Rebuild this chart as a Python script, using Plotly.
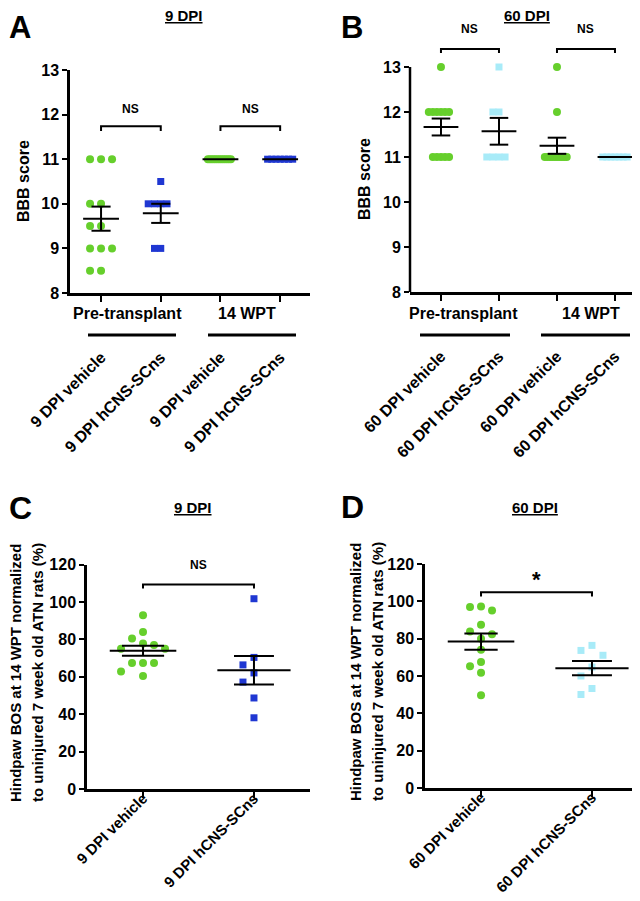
import numpy as np
import plotly.graph_objects as go

W, H = 640, 901
FONT = "Liberation Sans"

# ---------------- data ----------------
# Panel A: BBB score, 9 DPI
a_tick_labels = ["9 DPI vehicle", "9 DPI hCNS-SCns", "9 DPI vehicle", "9 DPI hCNS-SCns"]
a_pre_vehicle = [11, 11, 11, 10, 10, 9.5, 9.5, 9, 9, 9, 8.5, 8.5]
a_pre_hcns = [10.5, 10, 10, 10, 10, 9, 9]
a_wpt_vehicle = [11] * 12
a_wpt_hcns = [11] * 7

# Panel B: BBB score, 60 DPI
b_tick_labels = ["60 DPI vehicle", "60 DPI hCNS-SCns", "60 DPI vehicle", "60 DPI hCNS-SCns"]
b_pre_vehicle = [13, 12, 12, 12, 12, 12, 12, 11, 11, 11, 11, 11]
b_pre_hcns = [13, 12, 12, 11, 11, 11, 11]
b_wpt_vehicle = [13, 12, 11, 11, 11, 11, 11, 11, 11, 11, 11, 11]
b_wpt_hcns = [11] * 7

# Panel C: hindpaw BOS, 9 DPI
c_tick_labels = ["9 DPI vehicle", "9 DPI hCNS-SCns"]
c_vehicle = [93, 84, 80.5, 77.9, 77, 75, 75, 67.4, 67.4, 67.4, 62.8, 60.4]
c_hcns = [101.8, 70.4, 66.4, 62.1, 57.2, 48.7, 38.1]

# Panel D: hindpaw BOS, 60 DPI
d_tick_labels = ["60 DPI vehicle", "60 DPI hCNS-SCns"]
d_vehicle = [97.2, 95.1, 96.9, 87.4, 83.9, 82.3, 80.0, 74.1, 65.2, 67.5, 61.8, 49.7]
d_hcns = [76.4, 71.1, 73.7, 64.8, 60.0, 53.3, 50.1]

bbb_ticks = [8, 9, 10, 11, 12, 13]
bos_ticks = [0, 20, 40, 60, 80, 100, 120]

# ---------------- styles ----------------
GREEN = "#66cf2c"
BLUE = "#1f37d2"
CYAN = "#a8ebf8"


def PX(x):
    return x / W


def PY(y):
    return 1 - y / H


# subplot geometry in pixels: (left, right, bottom, top), x range, y range
geo = {
    "A": dict(px=(62, 302), py=(285, 62), xr=[-0.52, 3.5], yr=[8, 13]),
    "B": dict(px=(402, 635), py=(284, 14), xr=[-0.534, 3.483], yr=[8, 14]),
    "C": dict(px=(79, 302), py=(781, 556.7), xr=[-0.505, 1.505], yr=[0, 120]),
    "D": dict(px=(417, 640), py=(780, 556), xr=[-0.505, 1.505], yr=[0, 120]),
}
axid = {"A": ("x", "y"), "B": ("x2", "y2"), "C": ("x3", "y3"), "D": ("x4", "y4")}


def ppu(key):
    g = geo[key]
    xp = (g["px"][1] - g["px"][0]) / (g["xr"][1] - g["xr"][0])
    yp = (g["py"][0] - g["py"][1]) / (g["yr"][1] - g["yr"][0])
    return xp, yp


def swarm(values, key, slot=11.0, maxw=0.21):
    xp, yp = ppu(key)
    vals = np.asarray(values, dtype=float)
    order = np.argsort(-vals, kind="stable")
    cands = [0]
    for j in range(1, 40):
        cands += [-j, j]
    placed = []
    offs = np.zeros(len(vals))
    for i in order:
        y = vals[i] * yp
        for c in cands:
            x = c * slot
            if all((x - a) ** 2 + (y - b) ** 2 >= (slot * 0.95) ** 2 for a, b in placed):
                break
        placed.append((x, y))
        offs[i] = x / xp
    m = np.max(np.abs(offs))
    if m > maxw:
        offs *= maxw / m
    return offs


fig = go.Figure()


def add_group(key, pos, values, color, symbol, size, mean_hw=0.3, cap_hw=0.16):
    xa, ya = axid[key]
    offs = swarm(values, key)
    fig.add_trace(go.Scatter(
        x=pos + offs, y=values, mode="markers", xaxis=xa, yaxis=ya,
        marker=dict(color=color, symbol=symbol, size=size, line=dict(width=0)),
        showlegend=False, hoverinfo="y", cliponaxis=False))
    v = np.asarray(values, dtype=float)
    m = v.mean()
    s = v.std(ddof=1) / np.sqrt(len(v))
    xs = [pos - mean_hw, pos + mean_hw, None]
    ys = [m, m, None]
    if s > 0:
        xs += [pos, pos, None, pos - cap_hw, pos + cap_hw, None, pos - cap_hw, pos + cap_hw]
        ys += [m - s, m + s, None, m + s, m + s, None, m - s, m - s]
    fig.add_trace(go.Scatter(
        x=xs, y=ys, mode="lines", xaxis=xa, yaxis=ya,
        line=dict(color="black", width=2), showlegend=False, hoverinfo="skip"))


def add_bracket(key, x0, x1, ytop, ylow, text, ytext, tsize=12):
    xa, ya = axid[key]
    fig.add_trace(go.Scatter(
        x=[x0, x0, x1, x1], y=[ylow, ytop, ytop, ylow], mode="lines",
        xaxis=xa, yaxis=ya, line=dict(color="black", width=2),
        showlegend=False, hoverinfo="skip"))
    fig.add_annotation(x=(x0 + x1) / 2, y=ytext, xref=xa, yref=ya, text=text,
                       showarrow=False, xanchor="center", yanchor="middle",
                       font=dict(family=FONT, size=tsize, color="black", weight="bold"))


# Panel A
add_group("A", 0, a_pre_vehicle, GREEN, "circle", 8)
add_group("A", 1, a_pre_hcns, BLUE, "square", 7)
add_group("A", 2, a_wpt_vehicle, GREEN, "circle", 8)
add_group("A", 3, a_wpt_hcns, BLUE, "square", 7)
add_bracket("A", 0, 1, 11.74, 11.63, "NS", 12.12)
add_bracket("A", 2, 3, 11.74, 11.63, "NS", 12.12)

# Panel B
add_group("B", 0, b_pre_vehicle, GREEN, "circle", 8)
add_group("B", 1, b_pre_hcns, CYAN, "square", 7)
add_group("B", 2, b_wpt_vehicle, GREEN, "circle", 8)
add_group("B", 3, b_wpt_hcns, CYAN, "square", 7)
add_bracket("B", 0, 1, 13.40, 13.31, "NS", 13.84)
add_bracket("B", 2, 3, 13.40, 13.31, "NS", 13.84)

# Panel C
add_group("C", 0, c_vehicle, GREEN, "circle", 8, mean_hw=0.3, cap_hw=0.19)
add_group("C", 1, c_hcns, BLUE, "square", 7, mean_hw=0.33, cap_hw=0.18)
add_bracket("C", 0, 1, 109.4, 107.3, "NS", 120.0)

# Panel D
add_group("D", 0, d_vehicle, GREEN, "circle", 8, mean_hw=0.3, cap_hw=0.15)
add_group("D", 1, d_hcns, CYAN, "square", 7, mean_hw=0.33, cap_hw=0.18)
add_bracket("D", 0, 1, 104.9, 102.6, "*", 111.5, tsize=22)

# ---------------- axes ----------------
tickfont = dict(family=FONT, size=16, color="black", weight="bold")
xtickfont_cd = dict(family=FONT, size=15, color="black", weight="bold")
layout_axes = {}
for key, labels, ticks, standoff in [
    ("A", a_tick_labels, bbb_ticks, 40),
    ("B", b_tick_labels, bbb_ticks, 40),
    ("C", c_tick_labels, bos_ticks, -14),
    ("D", d_tick_labels, bos_ticks, -14),
]:
    g = geo[key]
    xa, ya = axid[key]
    xname = "xaxis" + xa[1:]
    yname = "yaxis" + ya[1:]
    layout_axes[xname] = dict(
        domain=[PX(g["px"][0]), PX(g["px"][1])], range=g["xr"], anchor=ya,
        tickvals=list(range(len(labels))), ticktext=labels, tickangle=-45,
        ticks="outside", ticklen=6, tickwidth=2, tickcolor="black",
        showline=True, linecolor="black", linewidth=2.5,
        showgrid=False, zeroline=False,
        tickfont=(tickfont if key in ("A", "B") else xtickfont_cd), automargin=False,
        ticklabelstandoff=standoff, fixedrange=True)
    layout_axes[yname] = dict(
        domain=[PY(g["py"][0]), PY(g["py"][1])], range=g["yr"], anchor=xa,
        tickvals=ticks, ticks="outside", ticklen=5, tickwidth=2, tickcolor="black",
        showline=(key != "B"), linecolor="black", linewidth=2.5, automargin=False,
        showgrid=False, zeroline=False, tickfont=tickfont, fixedrange=True)

fig.update_layout(**layout_axes)

# B y-axis line only up to 13
fig.add_shape(type="line", xref="x2 domain", yref="y2", x0=0, x1=0, y0=8, y1=13,
              line=dict(color="black", width=2.5))

# ---------------- text annotations ----------------
def ann(x, y, text, size, angle=0, xanchor="center", yanchor="middle"):
    fig.add_annotation(x=PX(x), y=PY(y), xref="paper", yref="paper", text=text,
                       showarrow=False, textangle=angle, xanchor=xanchor, yanchor=yanchor,
                       font=dict(family=FONT, size=size, color="black", weight="bold"))


# panel letters
ann(12, 0, "A", 31, yanchor="top")
ann(344, 0, "B", 31, yanchor="top")
ann(12, 500, "C", 32)
ann(344, 499, "D", 32)

# panel titles
ann(176, 8, "<u>9 DPI</u>", 15)
ann(519, 8, "<u>60 DPI</u>", 15)
ann(185, 500, "<u>9 DPI</u>", 15)
ann(527, 500, "<u>60 DPI</u>", 15)

# y axis titles
ann(15, 173, "BBB score", 16, angle=-90)
ann(357, 171, "BBB score", 16, angle=-90)
ann(7, 665, "Hindpaw BOS at 14 WPT normalized", 15, angle=-90)
ann(29, 665, "to uninjured 7 week old ATN rats (%)", 15, angle=-90)
ann(347, 664, "Hindpaw BOS at 14 WPT normalized", 15, angle=-90)
ann(369, 664, "to uninjured 7 week old ATN rats (%)", 15, angle=-90)

# group labels with lines
for cx, x0, x1, txt in [(119, 80, 168, "Pre-transplant"), (239, 200, 288, "14 WPT"),
                        (455, 412, 502, "Pre-transplant"), (583, 533, 622, "14 WPT")]:
    ann(cx, 305, txt, 16)
    fig.add_shape(type="line", xref="paper", yref="paper",
                  x0=PX(x0), x1=PX(x1), y0=PY(327), y1=PY(327),
                  line=dict(color="black", width=3))

fig.update_layout(
    template="none",
    width=W, height=H, margin=dict(l=0, r=0, t=0, b=0, pad=0, autoexpand=False),
    paper_bgcolor="white", plot_bgcolor="white", showlegend=False,
    font=dict(family=FONT, color="black"),
)

fig.write_html("out.html")
